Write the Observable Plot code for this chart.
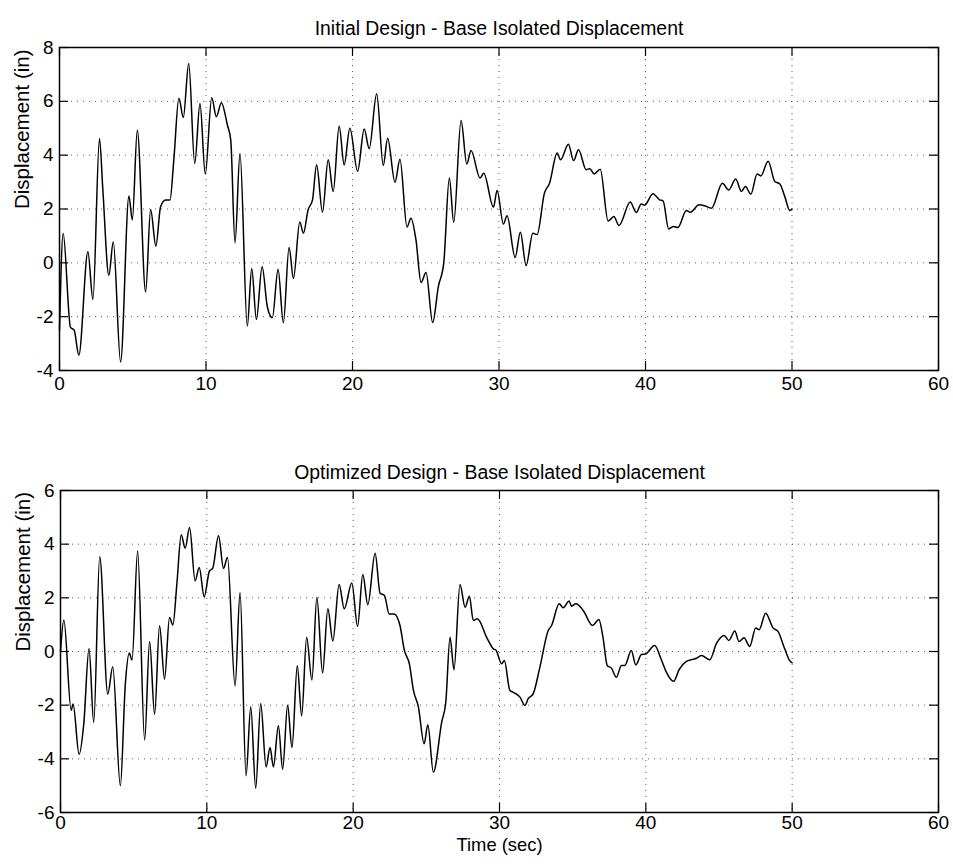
<!DOCTYPE html>
<html>
<head>
<meta charset="utf-8">
<script src="https://cdn.jsdelivr.net/npm/d3@7"></script>
<script src="https://cdn.jsdelivr.net/npm/@observablehq/plot@0.6"></script>
<style>
  html, body { margin: 0; padding: 0; background: #fff; }
  #chart svg { display: block; }
</style>
</head>
<body>
<div id="chart"></div>
<script>
// ---- Data ----
const xTicks = [0, 10, 20, 30, 40, 50, 60];
const yTicksTop = [-4, -2, 0, 2, 4, 6, 8];
const yTicksBottom = [-6, -4, -2, 0, 2, 4, 6];
const titleTop = "Initial Design - Base Isolated Displacement";
const titleBottom = "Optimized Design - Base Isolated Displacement";
const yLabel = "Displacement (in)";
const xLabel = "Time (sec)";

// Initial design: time (sec)
const timeTop = [0,0.25,0.75,1.0,1.32,1.94,2.28,2.73,2.95,3.37,3.67,4.17,4.74,4.97,5.31,5.88,6.22,6.58,6.9,7.24,7.54,7.8,8.15,8.45,8.82,9.23,9.59,9.95,10.39,10.71,11.05,11.46,11.69,11.98,12.32,12.82,13.12,13.44,13.83,14.19,14.53,14.92,15.28,15.67,15.97,16.4,16.65,16.97,17.27,17.55,17.95,18.34,18.68,19.09,19.43,19.82,20.35,20.8,21.14,21.65,22.1,22.4,22.9,23.24,23.72,23.99,24.33,24.68,25.02,25.47,25.86,26.23,26.61,26.91,27.41,27.8,28.09,28.71,28.96,29.62,29.87,30.3,30.55,31.1,31.46,31.85,32.31,32.6,33.1,33.45,33.97,34.2,34.74,35.09,35.43,35.95,36.2,36.5,36.91,37.45,37.84,38.19,38.96,39.37,39.71,39.94,40.51,40.96,41.2,41.58,41.92,42.21,42.79,43.06,43.66,44.05,44.5,45.25,45.68,46.16,46.55,46.82,47.19,47.62,47.87,48.37,48.83,49.17,49.51,49.85,50.0];
// Initial design: displacement (in)
const dispTop = [-2.5,1.09,-2.4,-2.5,-3.43,0.41,-1.36,4.62,2.8,-0.46,0.78,-3.68,2.48,1.59,4.93,-1.08,1.98,0.62,2.08,2.33,2.33,3.8,6.11,5.4,7.41,3.69,5.92,3.3,6.13,5.43,5.95,5.12,4.56,0.74,4.06,-2.35,-0.21,-2.1,-0.15,-1.64,-2.04,-0.24,-2.23,0.57,-0.58,1.52,1.1,1.97,2.34,3.64,1.88,3.83,2.65,5.07,3.64,5.0,3.4,4.97,4.24,6.28,3.62,4.63,2.99,3.85,1.33,1.66,0.86,-0.73,-0.36,-2.22,-0.88,0.0,3.15,1.5,5.29,3.67,4.17,3.15,3.33,2.07,2.69,1.44,1.75,0.2,1.14,-0.1,1.1,1.05,2.59,2.96,4.08,3.83,4.41,3.8,4.2,3.46,3.5,3.3,3.48,1.55,1.72,1.39,2.26,1.87,2.19,2.14,2.57,2.34,2.3,1.26,1.35,1.31,1.94,1.88,2.16,2.12,2.03,2.96,2.71,3.11,2.65,2.84,2.55,3.3,3.23,3.77,3.02,2.93,2.46,1.94,2.0];

// Optimized design: time (sec)
const timeBottom = [0,0.23,0.73,0.86,1.27,1.59,1.95,2.27,2.68,3.23,3.57,4.09,4.43,4.7,4.89,5.27,5.75,6.09,6.43,6.77,7.11,7.45,7.68,7.95,8.25,8.52,8.82,9.2,9.48,9.82,10.18,10.4,10.8,11.14,11.41,11.93,12.27,12.68,13.0,13.34,13.68,14.05,14.32,14.55,14.89,15.18,15.52,15.82,16.18,16.48,16.82,17.18,17.52,17.91,18.27,18.61,19.04,19.39,19.91,20.3,20.66,21.0,21.5,21.84,22.14,22.46,22.8,23.2,23.5,23.84,24.12,24.46,24.85,25.1,25.48,26.05,26.33,26.62,26.89,27.3,27.65,27.94,28.21,28.49,29.12,29.58,29.76,30.15,30.33,30.71,30.94,31.4,31.74,31.96,32.3,32.76,33.33,33.56,34.08,34.35,34.76,34.92,35.22,35.72,36.36,36.79,37.08,37.36,37.65,37.99,38.33,38.56,39.01,39.31,39.7,39.99,40.6,41.06,41.4,41.9,42.27,42.77,43.46,43.8,44.37,44.82,45.35,45.67,46.08,46.37,46.71,47.1,47.51,47.74,48.19,48.69,49.03,49.49,49.83,50.0];
// Optimized design: displacement (in)
const dispBottom = [0.0,1.17,-2.19,-1.96,-3.83,-2.7,0.11,-2.65,3.53,-1.59,-0.57,-5.0,-1.22,-0.06,-0.32,3.75,-3.3,0.37,-2.34,0.96,-1.03,1.27,0.99,2.5,4.35,3.85,4.62,2.63,3.13,2.04,3.0,3.1,4.31,3.1,3.5,-1.28,2.2,-4.63,-2.06,-5.1,-1.94,-4.3,-3.58,-4.3,-2.77,-4.39,-2.0,-3.58,-0.53,-2.4,0.52,-1.06,2.02,-0.8,1.59,0.39,2.5,1.59,2.55,0.93,2.87,1.74,3.66,2.17,2.09,1.4,1.4,0.97,0.04,-0.46,-1.45,-2.07,-3.44,-2.73,-4.5,-2.63,-1.89,0.53,-0.68,2.5,1.65,2.06,1.16,1.22,0.53,0.1,0.05,-0.46,-0.34,-1.45,-1.52,-1.7,-2.01,-1.76,-1.58,-0.58,0.78,0.97,1.78,1.63,1.88,1.69,1.78,1.53,0.97,1.19,0.5,-0.52,-0.62,-0.96,-0.52,-0.52,0.04,-0.5,-0.11,-0.09,0.22,-0.31,-0.77,-1.11,-0.68,-0.37,-0.25,-0.15,-0.31,0.29,0.6,0.41,0.76,0.37,0.51,0.19,0.88,0.81,1.43,0.88,0.75,0.1,-0.34,-0.42];

// ---- Drawing ----
const W = 953;
const FONT = "'Liberation Sans', Arial, Helvetica, sans-serif";

function panel({time, disp, yTicks, title, height, mt, mb, ml, mr, titleDy, xPad, showXLabel}) {
  const innerH = height - mt - mb;
  const innerW = W - ml - mr;
  const data = time.map((t, i) => ({t, v: disp[i]}));
  const tick = 9;
  const marks = [
    Plot.gridX(xTicks.slice(1, -1), {stroke: "#333", strokeOpacity: 0.8, strokeWidth: 1, strokeDasharray: "1,5"}),
    Plot.gridY(yTicks.slice(1, -1), {stroke: "#333", strokeOpacity: 0.8, strokeWidth: 1, strokeDasharray: "1,5"}),
    Plot.tickX(xTicks, {x: d => d, insetTop: innerH - tick, stroke: "#000", strokeWidth: 1.2}),
    Plot.tickX(xTicks, {x: d => d, insetBottom: innerH - tick, stroke: "#000", strokeWidth: 1.2}),
    Plot.tickY(yTicks, {y: d => d, insetRight: innerW - tick, stroke: "#000", strokeWidth: 1.2}),
    Plot.tickY(yTicks, {y: d => d, insetLeft: innerW - tick, stroke: "#000", strokeWidth: 1.2}),
    Plot.frame({stroke: "#000", strokeWidth: 1.5}),
    Plot.line(data, {x: "t", y: "v", curve: "monotone-x", stroke: "#000", strokeWidth: 1.5}),
    Plot.axisX(xTicks, {tickSize: 0, tickPadding: xPad, fontSize: 19, label: null, tickFormat: d => String(d)}),
    Plot.axisY(yTicks, {tickSize: 0, tickPadding: 6, fontSize: 19, label: null, tickFormat: d => String(d)}),
    Plot.text([title], {frameAnchor: "top", dy: titleDy, text: d => d, fontSize: 19.4, fill: "#000"}),
    Plot.text([yLabel], {frameAnchor: "left", rotate: -90, dx: -37, text: d => d, fontSize: 20.5, fill: "#000"})
  ];
  if (showXLabel) {
    marks.push(Plot.text([xLabel], {frameAnchor: "bottom", dy: 38, text: d => d, fontSize: 18.4, fill: "#000"}));
  }
  return Plot.plot({
    width: W,
    height,
    marginTop: mt,
    marginBottom: mb,
    marginLeft: ml,
    marginRight: mr,
    x: {domain: [0, 60]},
    y: {domain: [yTicks[0], yTicks[yTicks.length - 1]]},
    style: {fontFamily: FONT, fontSize: "18px", color: "#000", background: "#fff", overflow: "visible"},
    marks
  });
}

const chart = document.getElementById("chart");
chart.append(panel({
  time: timeTop, disp: dispTop, yTicks: yTicksTop, title: titleTop,
  height: 433, mt: 47, mb: 63, ml: 59, mr: 15, titleDy: -26.5, xPad: 6, showXLabel: false
}));
chart.append(panel({
  time: timeBottom, disp: dispBottom, yTicks: yTicksBottom, title: titleBottom,
  height: 434, mt: 57, mb: 55, ml: 60, mr: 15, titleDy: -25.5, xPad: 3, showXLabel: true
}));
</script>
</body>
</html>
